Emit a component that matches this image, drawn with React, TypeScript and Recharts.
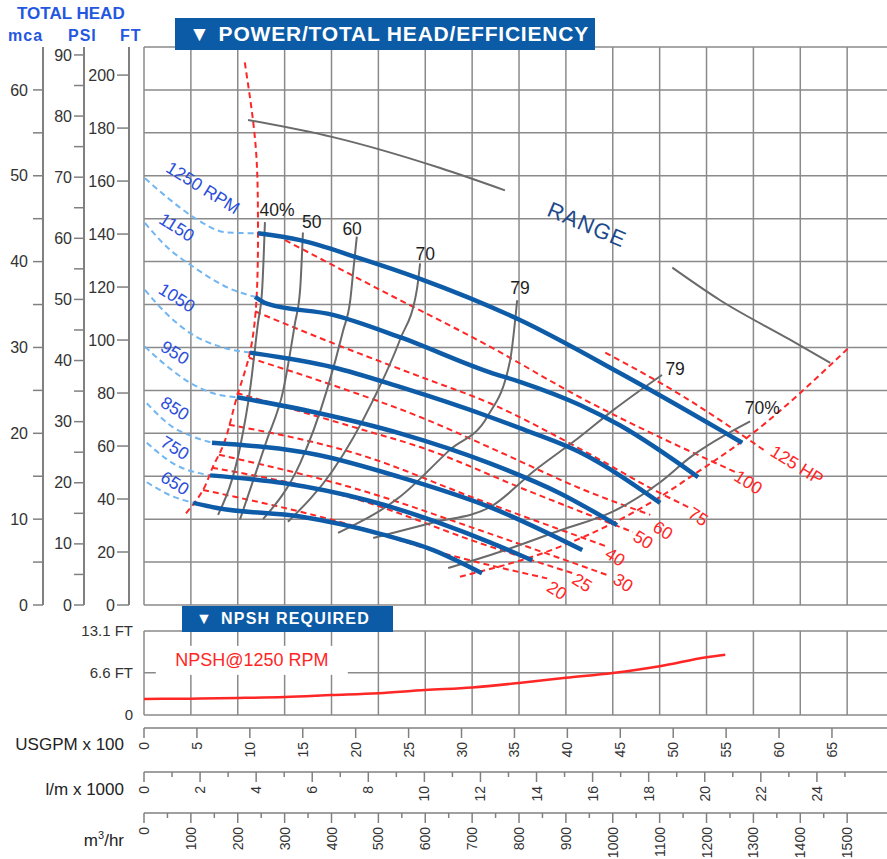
import React from 'react';
import {
  ComposedChart, Line, Scatter, XAxis, YAxis, CartesianGrid, ReferenceLine,
} from 'recharts';

type Pair = [number, number];
type Tag = { q: number; h: number; text: string };

const FONT = '"Liberation Sans", Arial, Helvetica, sans-serif';
const GRID = '#8a8a8a';
const AXIS = '#808080';
const BLUE = '#0e5ca7';
const SKY = '#72b6f2';
const RED = '#ff2626';
const GRAY = '#6a6a6a';
const HEAD_BLUE = '#0b5ba6';
const FLOW_MAX = 1585;
const BOTTOM_GAP = 5;

// axis ticks
const mcaTicks = [0, 5, 10, 15, 20, 25, 30, 35, 40, 45, 50, 55, 60];
const psiTicks = [0, 5, 10, 15, 20, 25, 30, 35, 40, 45, 50, 55, 60, 65, 70, 75, 80, 85, 90];
const ftTicks = [0, 20, 40, 60, 80, 100, 120, 140, 160, 180, 200];
const flowGrid = [0, 100, 200, 300, 400, 500, 600, 700, 800, 900, 1000, 1100, 1200, 1300, 1400, 1500];
const gpmTicks = [0, 5, 10, 15, 20, 25, 30, 35, 40, 45, 50, 55, 60, 65];
const lpmTicks = [0, 1, 2, 3, 4, 5, 6, 7, 8, 9, 10, 11, 12, 13, 14, 15, 16, 17, 18, 19, 20, 21, 22, 23, 24, 25];
const m3Ticks = [0, 50, 100, 150, 200, 250, 300, 350, 400, 450, 500, 550, 600, 650, 700, 750, 800, 850,
  900, 950, 1000, 1050, 1100, 1150, 1200, 1250, 1300, 1350, 1400, 1450, 1500];
const npshTicks = [0, 6.6, 13.1];

// head curves per speed, [m3/hr, head m]
const rpm1250: Pair[] = [[243, 43.3], [333, 42.5], [454, 40.5], [589, 38.0], [802, 33.2], [1016, 27.0], [1229, 20.4], [1276, 18.9]];
const rpm1150: Pair[] = [[237, 35.9], [262, 35.1], [403, 33.8], [546, 31.2], [738, 27.1], [802, 26.0], [930, 23.3], [1016, 20.9], [1182, 14.9]];
const rpm1050: Pair[] = [[226, 29.4], [403, 27.7], [546, 25.4], [738, 21.9], [802, 20.6], [930, 17.8], [1101, 11.9]];
const rpm950: Pair[] = [[198, 24.2], [369, 22.4], [546, 20.0], [738, 16.5], [888, 13.0], [1009, 9.3]];
const rpm850: Pair[] = [[145, 18.9], [369, 17.5], [546, 14.9], [738, 11.4], [935, 6.4]];
const rpm750: Pair[] = [[141, 15.1], [297, 14.2], [476, 12.2], [738, 7.3], [828, 5.2]];
const rpm650: Pair[] = [[105, 11.9], [156, 11.3], [333, 10.3], [510, 8.2], [617, 6.4], [721, 3.7]];

// low flow (dashed) parts of the speed curves
const low1250: Pair[] = [[2, 49.7], [49, 47.5], [105, 45.2], [177, 43.4], [243, 43.3]];
const low1150: Pair[] = [[2, 44.5], [49, 41.7], [105, 39.4], [190, 36.7], [237, 35.9]];
const low1050: Pair[] = [[2, 36.7], [45, 34.1], [98, 31.7], [162, 30.1], [226, 29.4]];
const low950: Pair[] = [[2, 30.1], [45, 28.0], [98, 25.9], [151, 24.6], [198, 24.2]];
const low850: Pair[] = [[6, 23.5], [62, 20.7], [105, 19.6], [145, 18.9]];
const low750: Pair[] = [[6, 18.9], [62, 16.5], [141, 15.1]];
const low650: Pair[] = [[6, 14.3], [55, 12.8], [105, 11.9]];

// operating limits
const minFlow: Pair[] = [[215, 63.2], [237, 54.2], [243, 46.0], [241, 36.7], [226, 29.4], [198, 24.2], [173, 19.2], [147, 16.1], [126, 13.4], [87, 10.5]];
const maxFlow: Pair[] = [[674, 3.3], [888, 6.8], [1101, 12.6], [1165, 14.9], [1289, 19.6], [1502, 29.9]];

// power lines
const hp125: Pair[] = [[984, 29.4], [1144, 24.5], [1329, 17.8]];
const hp100: Pair[] = [[301, 42.5], [504, 36.7], [738, 30.1], [930, 24.2], [1265, 15.4]];
const hp75: Pair[] = [[237, 34.2], [403, 30.5], [589, 26.6], [738, 23.5], [930, 18.2], [1095, 13.2], [1165, 11.3]];
const hp60: Pair[] = [[224, 28.8], [403, 25.6], [589, 21.9], [760, 17.8], [930, 13.6], [1080, 10.5]];
const hp50: Pair[] = [[198, 24.7], [461, 20.5], [589, 18.4], [824, 13.2], [1043, 8.5]];
const hp40: Pair[] = [[181, 21.0], [461, 17.5], [717, 12.2], [988, 6.8]];
const hp30: Pair[] = [[160, 17.5], [461, 13.4], [717, 8.7], [988, 3.5]];
const hp25: Pair[] = [[145, 16.0], [461, 12.2], [717, 7.2], [915, 3.7]];
const hp20: Pair[] = [[126, 13.4], [403, 9.9], [653, 5.8], [860, 3.1]];

// efficiency curves
const eff40: Pair[] = [[158, 10.5], [205, 18.4], [226, 25.0], [243, 32.8], [252, 36.7], [258, 44.6]];
const eff50: Pair[] = [[205, 10.0], [262, 19.2], [297, 25.0], [322, 32.8], [333, 36.7], [339, 43.4]];
const eff60: Pair[] = [[254, 10.0], [333, 16.5], [390, 25.0], [425, 32.0], [440, 35.5], [446, 38.7], [454, 42.9]];
const eff70: Pair[] = [[307, 9.7], [403, 15.7], [489, 23.9], [546, 30.9], [582, 36.7], [589, 39.8]];
const eff79a: Pair[] = [[414, 8.4], [546, 12.6], [653, 18.1], [732, 21.9], [781, 28.5], [796, 35.5]];
const eff79b: Pair[] = [[489, 7.8], [617, 9.6], [738, 11.4], [834, 15.7], [930, 19.6], [1001, 22.7], [1105, 26.8]];
const eff70b: Pair[] = [[649, 4.3], [760, 6.2], [888, 8.7], [1001, 10.9], [1101, 14.3], [1165, 17.2], [1293, 21.4]];

// range arcs
const rangeTop: Pair[] = [[222, 56.5], [403, 54.5], [632, 50.9], [770, 48.3]];
const rangeRight: Pair[] = [[1127, 39.3], [1229, 35.5], [1378, 30.9], [1464, 28.2]];

// in-plot labels
const hpLabels: Tag[] = [
  { q: 1393, h: 16.3, text: '125 HP' }, { q: 1289, h: 14.3, text: '100' }, { q: 1182, h: 10.3, text: '75' },
  { q: 1107, h: 8.7, text: '60' }, { q: 1065, h: 7.6, text: '50' }, { q: 1005, h: 5.6, text: '40' },
  { q: 1022, h: 2.6, text: '30' }, { q: 935, h: 2.6, text: '25' }, { q: 881, h: 1.7, text: '20' },
];
const effLabels: Tag[] = [
  { q: 284, h: 46.0, text: '40%' }, { q: 358, h: 44.6, text: '50' }, { q: 444, h: 43.8, text: '60' },
  { q: 600, h: 40.9, text: '70' }, { q: 802, h: 36.9, text: '79' }, { q: 1133, h: 27.5, text: '79' },
  { q: 1319, h: 22.9, text: '70%' },
];
const rpmLabels: Tag[] = [
  { q: 126, h: 48.6, text: '1250 RPM' }, { q: 70, h: 44.0, text: '1150' }, { q: 70, h: 35.8, text: '1050' },
  { q: 66, h: 29.4, text: '950' }, { q: 66, h: 22.9, text: '850' }, { q: 66, h: 18.3, text: '750' },
  { q: 66, h: 14.2, text: '650' },
];
const rangeLabel: Tag[] = [{ q: 945, h: 44.3, text: 'RANGE' }];

// NPSH required at 1250 rpm, [m3/hr, ft]
const npshFlow = [0, 100, 200, 300, 400, 500, 600, 700, 800, 900, 1000, 1100, 1200, 1240];
const npshFt = [2.5, 2.55, 2.65, 2.8, 3.1, 3.4, 3.9, 4.3, 5.0, 5.8, 6.55, 7.6, 9.0, 9.4];
const npshLabel = [{ q: 230, n: 8.6, text: 'NPSH@1250 RPM' }];

// axis ids are sorted by name when stacked: lower name sits closer to the plot
const X_FLOW = 'x0flow';
const Y_HEAD = 'y3mca';

const pts = (list: Pair[]) => list.map(([q, h]) => ({ q, h }));

const curve = (key: string, list: Pair[], color: string, width: number, dash?: string, type: any = 'monotone') => (
  <Line
    key={key}
    data={pts(list)}
    dataKey="h"
    xAxisId={X_FLOW}
    yAxisId={Y_HEAD}
    type={type}
    stroke={color}
    strokeWidth={width}
    strokeDasharray={dash}
    dot={false}
    activeDot={false}
    isAnimationActive={false}
  />
);

const tags = (key: string, list: Tag[], color: string, size: number, angle: number, spacing = 0) => (
  <Scatter
    key={key}
    data={list}
    dataKey="h"
    xAxisId={X_FLOW}
    yAxisId={Y_HEAD}
    isAnimationActive={false}
    shape={(p: any) => (
      <text
        x={p.cx}
        y={p.cy}
        textAnchor="middle"
        dominantBaseline="central"
        fontSize={size}
        fill={color}
        fontFamily={FONT}
        letterSpacing={spacing}
        transform={`rotate(${angle} ${p.cx} ${p.cy})`}
      >
        {p.payload.text}
      </text>
    )}
  />
);

const emptyTick = () => <g />;

const leftTick = (step: number) => (props: any) => {
  const { x, y, payload } = props;
  if (payload.value % step !== 0) return <g />;
  return (
    <text x={x} y={y} dy={5.6} textAnchor="end" fontSize={16} fill="#333" fontFamily={FONT}>
      {payload.value}
    </text>
  );
};

// y comes in BOTTOM_GAP below the axis line
const bottomTick = (step: number) => (props: any) => {
  const { x, y, payload } = props;
  const v = payload.value;
  const major = v % step === 0;
  const base = y - BOTTOM_GAP;
  const ty = base + 14;
  return (
    <g>
      <line x1={x} x2={x} y1={base} y2={base + (major ? 10 : 5)} stroke={AXIS} strokeWidth={1.5} />
      {major && (
        <text
          x={x}
          y={ty}
          textAnchor="end"
          dominantBaseline="central"
          fontSize={14}
          fill="#333"
          fontFamily={FONT}
          transform={`rotate(-90 ${x} ${ty})`}
        >
          {v}
        </text>
      )}
    </g>
  );
};

const npshTick = (props: any) => {
  const { x, y, payload } = props;
  const v = payload.value;
  return (
    <text x={x} y={y} dy={5.3} textAnchor="end" fontSize={15} fill="#333" fontFamily={FONT}>
      {v === 0 ? '0' : `${v} FT`}
    </text>
  );
};

const axisLine = { stroke: AXIS, strokeWidth: 2 };
const tickLine = { stroke: AXIS, strokeWidth: 1.5 };
const bottomLine = { stroke: AXIS, strokeWidth: 1.5 };

const titleStyle: React.CSSProperties = {
  position: 'absolute', left: 0, width: 124, textAlign: 'right', fontSize: 17,
  lineHeight: '20px', color: '#222', whiteSpace: 'nowrap',
};

const unitStyle: React.CSSProperties = {
  position: 'absolute', top: 27, fontSize: 16, fontWeight: 'bold', color: '#2457e0', letterSpacing: 1,
};

const PumpCurve: React.FC = () => {
  const npshData = npshFlow.map((q, i) => ({ q, n: npshFt[i] }));

  return (
    <div style={{ position: 'absolute', left: 0, top: 0, width: 887, height: 859, background: '#fff', fontFamily: FONT }}>
      <div style={{ position: 'absolute', left: 0, top: 0 }}>
        <ComposedChart width={887} height={620} margin={{ top: 47, right: 0, bottom: 15, left: 0 }}>
          <XAxis xAxisId={X_FLOW} type="number" dataKey="q" domain={[0, FLOW_MAX]} allowDataOverflow ticks={flowGrid}
            interval={0} height={0} tick={emptyTick} axisLine={false} tickLine={false} />
          <YAxis yAxisId="y0sp" type="number" width={15} domain={[0, 1]} allowDataOverflow tick={false}
            axisLine={false} tickLine={false} />
          <YAxis yAxisId="y1ft" type="number" width={45} domain={[0, 210.6]} allowDataOverflow ticks={ftTicks} interval={0}
            tickSize={12} tickMargin={2} axisLine={axisLine} tickLine={tickLine} tick={leftTick(20)} />
          <YAxis yAxisId="y2psi" type="number" width={41} domain={[0, 91.3]} allowDataOverflow ticks={psiTicks} interval={0}
            tickSize={10} tickMargin={2} axisLine={axisLine} tickLine={tickLine} tick={leftTick(10)} />
          <YAxis yAxisId={Y_HEAD} type="number" width={43} domain={[0, 65]} allowDataOverflow ticks={mcaTicks} interval={0}
            tickSize={10} tickMargin={5} axisLine={axisLine} tickLine={tickLine} tick={leftTick(10)} />
          <CartesianGrid xAxisId={X_FLOW} yAxisId={Y_HEAD} stroke={GRID} strokeWidth={1.5} syncWithTicks />
          <ReferenceLine xAxisId={X_FLOW} yAxisId={Y_HEAD} y={65} stroke={GRID} strokeWidth={1.5} />

          {curve('l1250', low1250, SKY, 2, '6 4')}
          {curve('l1150', low1150, SKY, 2, '6 4')}
          {curve('l1050', low1050, SKY, 2, '6 4')}
          {curve('l950', low950, SKY, 2, '6 4')}
          {curve('l850', low850, SKY, 2, '6 4')}
          {curve('l750', low750, SKY, 2, '6 4')}
          {curve('l650', low650, SKY, 2, '6 4')}

          {curve('min', minFlow, RED, 2, '6 4', 'natural')}
          {curve('max', maxFlow, RED, 2, '6 4')}
          {curve('hp125', hp125, RED, 2, '6 4')}
          {curve('hp100', hp100, RED, 2, '6 4')}
          {curve('hp75', hp75, RED, 2, '6 4')}
          {curve('hp60', hp60, RED, 2, '6 4')}
          {curve('hp50', hp50, RED, 2, '6 4')}
          {curve('hp40', hp40, RED, 2, '6 4')}
          {curve('hp30', hp30, RED, 2, '6 4')}
          {curve('hp25', hp25, RED, 2, '6 4')}
          {curve('hp20', hp20, RED, 2, '6 4')}

          {curve('e40', eff40, GRAY, 2)}
          {curve('e50', eff50, GRAY, 2)}
          {curve('e60', eff60, GRAY, 2)}
          {curve('e70', eff70, GRAY, 2)}
          {curve('e79a', eff79a, GRAY, 2)}
          {curve('e79b', eff79b, GRAY, 2)}
          {curve('e70b', eff70b, GRAY, 2)}
          {curve('rTop', rangeTop, GRAY, 2)}
          {curve('rRight', rangeRight, GRAY, 2)}

          {curve('r1250', rpm1250, BLUE, 4.5)}
          {curve('r1150', rpm1150, BLUE, 4.5)}
          {curve('r1050', rpm1050, BLUE, 4.5)}
          {curve('r950', rpm950, BLUE, 4.5)}
          {curve('r850', rpm850, BLUE, 4.5)}
          {curve('r750', rpm750, BLUE, 4.5)}
          {curve('r650', rpm650, BLUE, 4.5)}

          {tags('hpL', hpLabels, RED, 17.5, 32)}
          {tags('effL', effLabels, '#1e1e1e', 17.5, 0)}
          {tags('rpmL', rpmLabels, '#2b4fd9', 17.5, 32)}
          {tags('rangeL', rangeLabel, '#1d4a8c', 22, 23, 1)}
        </ComposedChart>
      </div>

      <div style={{ position: 'absolute', left: 0, top: 600 }}>
        <ComposedChart width={887} height={259} data={npshData} margin={{ top: 31, right: 0, bottom: 0, left: 0 }}>
          <XAxis xAxisId={X_FLOW} type="number" dataKey="q" domain={[0, FLOW_MAX]} allowDataOverflow ticks={flowGrid}
            interval={0} height={13} tick={emptyTick} axisLine={false} tickLine={false} />
          <XAxis xAxisId="x1gpm" type="number" dataKey="q" domain={[0, 70.2]} allowDataOverflow ticks={gpmTicks} interval={0}
            height={44} tickSize={BOTTOM_GAP} tickMargin={0} tickLine={false} axisLine={bottomLine} tick={bottomTick(5)} />
          <XAxis xAxisId="x2lpm" type="number" dataKey="q" domain={[0, 26.5]} allowDataOverflow ticks={lpmTicks} interval={0}
            height={41} tickSize={BOTTOM_GAP} tickMargin={0} tickLine={false} axisLine={bottomLine} tick={bottomTick(2)} />
          <XAxis xAxisId="x3m3" type="number" dataKey="q" domain={[0, FLOW_MAX]} allowDataOverflow ticks={m3Ticks} interval={0}
            height={46} tickSize={BOTTOM_GAP} tickMargin={0} tickLine={false} axisLine={bottomLine} tick={bottomTick(100)} />
          <YAxis yAxisId="npsh" type="number" width={144} domain={[0, 13.1]} allowDataOverflow ticks={npshTicks} interval={0}
            tickSize={0} tickMargin={11} tickLine={false} axisLine={false} tick={npshTick} />
          <CartesianGrid xAxisId={X_FLOW} yAxisId="npsh" stroke={GRID} strokeWidth={1.5} syncWithTicks />
          <Scatter
            data={npshLabel}
            dataKey="n"
            xAxisId={X_FLOW}
            yAxisId="npsh"
            isAnimationActive={false}
            shape={(p: any) => (
              <g>
                <rect x={p.cx - 96} y={p.cy - 14} width={192} height={29} fill="#fff" />
                <text x={p.cx} y={p.cy} textAnchor="middle" dominantBaseline="central" fontSize={18}
                  fill={RED} fontFamily={FONT}>
                  {p.payload.text}
                </text>
              </g>
            )}
          />
          <Line dataKey="n" xAxisId={X_FLOW} yAxisId="npsh" type="monotone" stroke={RED}
            strokeWidth={2.5} dot={false} activeDot={false} isAnimationActive={false} />
        </ComposedChart>
      </div>

      {/* headers */}
      <div style={{ position: 'absolute', left: 17, top: 4, fontSize: 17, fontWeight: 'bold', color: '#2457e0', whiteSpace: 'nowrap' }}>
        TOTAL HEAD
      </div>
      <div style={{ ...unitStyle, left: 8 }}>mca</div>
      <div style={{ ...unitStyle, left: 68 }}>PSI</div>
      <div style={{ ...unitStyle, left: 120 }}>FT</div>

      <div style={{
        position: 'absolute', left: 175, top: 18, width: 420, height: 32, background: HEAD_BLUE, color: '#fff',
        fontWeight: 'bold', fontSize: 21, letterSpacing: 0.8, lineHeight: '32px', whiteSpace: 'nowrap',
      }}>
        <span style={{ marginLeft: 14, marginRight: 8 }}>▼</span>POWER/TOTAL HEAD/EFFICIENCY
      </div>
      <div style={{
        position: 'absolute', left: 182, top: 606, width: 211, height: 26, background: HEAD_BLUE, color: '#fff',
        fontWeight: 'bold', fontSize: 16, letterSpacing: 1.2, lineHeight: '26px', whiteSpace: 'nowrap',
      }}>
        <span style={{ marginLeft: 14, marginRight: 8 }}>▼</span>NPSH REQUIRED
      </div>

      {/* bottom axis titles */}
      <div style={{ ...titleStyle, top: 735 }}>USGPM x 100</div>
      <div style={{ ...titleStyle, top: 780 }}>l/m x 1000</div>
      <div style={{ ...titleStyle, top: 825 }}>m<sup style={{ fontSize: 11 }}>3</sup>/hr</div>
    </div>
  );
};

export default PumpCurve;
